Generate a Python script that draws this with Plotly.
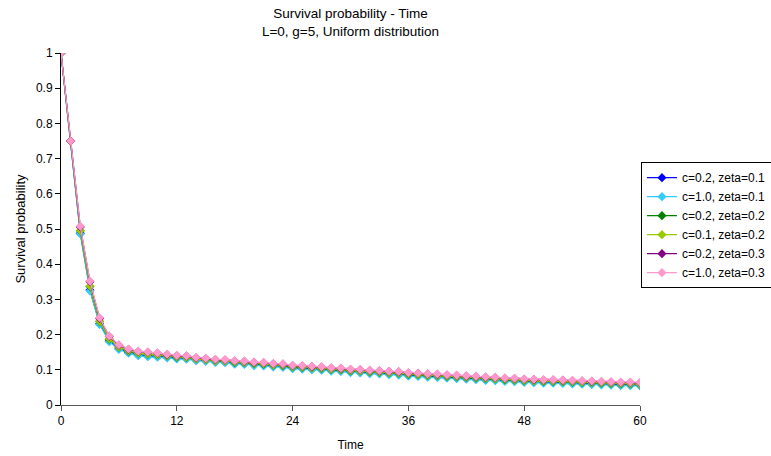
import plotly.graph_objects as go

time = list(range(0, 61))

s_c02_z01 = [1.0, 0.75, 0.488, 0.327, 0.231, 0.182, 0.160, 0.149, 0.142, 0.139, 0.138, 0.136, 0.133, 0.132, 0.128, 0.126,
             0.123, 0.122, 0.118, 0.117, 0.114, 0.113, 0.110, 0.109, 0.105, 0.104, 0.102, 0.101, 0.098, 0.097,
             0.094, 0.093, 0.091, 0.090, 0.088, 0.087, 0.084, 0.083, 0.081, 0.080, 0.078, 0.077, 0.075, 0.074,
             0.072, 0.071, 0.069, 0.068, 0.066, 0.065, 0.064, 0.064, 0.063, 0.062, 0.061, 0.060, 0.059, 0.058,
             0.057, 0.057, 0.056]
s_c10_z01 = [1.0, 0.75, 0.486, 0.324, 0.229, 0.180, 0.158, 0.147, 0.140, 0.137, 0.136, 0.134, 0.131, 0.130, 0.126, 0.124,
             0.121, 0.120, 0.116, 0.115, 0.112, 0.111, 0.108, 0.107, 0.103, 0.102, 0.100, 0.099, 0.096, 0.095,
             0.092, 0.091, 0.089, 0.088, 0.086, 0.085, 0.082, 0.081, 0.079, 0.078, 0.076, 0.075, 0.073, 0.072,
             0.070, 0.069, 0.067, 0.066, 0.064, 0.063, 0.062, 0.062, 0.061, 0.060, 0.059, 0.058, 0.057, 0.056,
             0.055, 0.055, 0.054]
s_c02_z02 = [1.0, 0.75, 0.495, 0.337, 0.237, 0.187, 0.164, 0.153, 0.147, 0.144, 0.142, 0.139, 0.136, 0.135, 0.131, 0.129,
             0.126, 0.125, 0.121, 0.120, 0.117, 0.116, 0.113, 0.112, 0.108, 0.107, 0.105, 0.104, 0.101, 0.100,
             0.097, 0.096, 0.094, 0.093, 0.091, 0.090, 0.087, 0.086, 0.084, 0.083, 0.081, 0.080, 0.078, 0.077,
             0.075, 0.074, 0.072, 0.071, 0.069, 0.068, 0.067, 0.067, 0.066, 0.065, 0.064, 0.063, 0.062, 0.061,
             0.060, 0.060, 0.059]
s_c01_z02 = [1.0, 0.75, 0.496, 0.338, 0.238, 0.188, 0.165, 0.154, 0.148, 0.145, 0.143, 0.140, 0.137, 0.136, 0.131, 0.129,
             0.126, 0.125, 0.122, 0.121, 0.118, 0.117, 0.114, 0.113, 0.109, 0.108, 0.106, 0.105, 0.102, 0.101,
             0.098, 0.097, 0.095, 0.094, 0.092, 0.091, 0.088, 0.087, 0.085, 0.084, 0.082, 0.081, 0.079, 0.078,
             0.076, 0.075, 0.073, 0.072, 0.070, 0.069, 0.068, 0.068, 0.067, 0.066, 0.065, 0.064, 0.063, 0.062,
             0.061, 0.061, 0.060]
s_c02_z03 = [1.0, 0.75, 0.506, 0.350, 0.246, 0.195, 0.170, 0.158, 0.152, 0.150, 0.147, 0.143, 0.140, 0.139, 0.134, 0.132,
             0.129, 0.128, 0.125, 0.124, 0.121, 0.120, 0.117, 0.116, 0.112, 0.111, 0.109, 0.108, 0.105, 0.104,
             0.101, 0.100, 0.098, 0.097, 0.095, 0.094, 0.091, 0.090, 0.088, 0.087, 0.085, 0.084, 0.082, 0.081,
             0.079, 0.078, 0.076, 0.075, 0.073, 0.072, 0.071, 0.071, 0.070, 0.069, 0.068, 0.067, 0.066, 0.065,
             0.064, 0.064, 0.063]
s_c10_z03 = [1.0, 0.75, 0.508, 0.352, 0.248, 0.196, 0.171, 0.159, 0.153, 0.151, 0.148, 0.144, 0.141, 0.140, 0.135, 0.133,
             0.130, 0.129, 0.126, 0.125, 0.122, 0.121, 0.118, 0.117, 0.113, 0.112, 0.110, 0.109, 0.106, 0.105,
             0.102, 0.101, 0.099, 0.098, 0.096, 0.095, 0.092, 0.091, 0.089, 0.088, 0.086, 0.085, 0.083, 0.082,
             0.080, 0.079, 0.077, 0.076, 0.074, 0.073, 0.072, 0.072, 0.071, 0.070, 0.069, 0.068, 0.067, 0.066,
             0.065, 0.065, 0.064]

series_names = ["c=0.2, zeta=0.1", "c=1.0, zeta=0.1", "c=0.2, zeta=0.2",
                "c=0.1, zeta=0.2", "c=0.2, zeta=0.3", "c=1.0, zeta=0.3"]
series_values = [s_c02_z01, s_c10_z01, s_c02_z02, s_c01_z02, s_c02_z03, s_c10_z03]
colors = ["#0000FF", "#33CCFF", "#008000", "#99CC00", "#800080", "#FF99CC"]
x_ticks = [0, 12, 24, 36, 48, 60]

fig = go.Figure()
for name, vals, col in zip(series_names, series_values, colors):
    fig.add_trace(go.Scatter(
        x=time, y=vals, name=name, mode="lines+markers",
        line=dict(color=col, width=1.2),
        marker=dict(symbol="diamond", size=7, color=col),
    ))

fig.update_layout(
    width=771, height=456,
    paper_bgcolor="white", plot_bgcolor="white",
    font=dict(family="Liberation Sans, Arial, sans-serif", size=12, color="black"),
    title=dict(text="Survival probability - Time<br>L=0, g=5, Uniform distribution",
               x=(61 + 640) / 2 / 771, xanchor="center",
               yref="container", y=1 - 18 / 456, yanchor="top",
               font=dict(size=13.5)),
    margin=dict(l=61, r=131, t=53, b=51, autoexpand=False),
    showlegend=True,
    legend=dict(x=1.0017, xanchor="left", y=0.511, yanchor="middle",
                bordercolor="black", borderwidth=1, bgcolor="white",
                font=dict(size=12), itemwidth=30, tracegroupgap=0),
    xaxis=dict(range=[0, 60], tickvals=x_ticks, ticks="outside", ticklen=5,
               tickcolor="#555", showline=True, linecolor="#555", linewidth=1,
               showgrid=False, zeroline=False, automargin=False,
               title=dict(text="Time", font=dict(size=12), standoff=13)),
    yaxis=dict(range=[0, 1], dtick=0.1, ticks="outside", ticklen=5,
               tickcolor="black", showline=True, linecolor="black", linewidth=1,
               showgrid=False, zeroline=False, automargin=False,
               title=dict(text="Survival probability", font=dict(size=13), standoff=7)),
)

fig.write_html("out.html", config={"displayModeBar": False},
               post_script="document.body.style.margin='0';")
